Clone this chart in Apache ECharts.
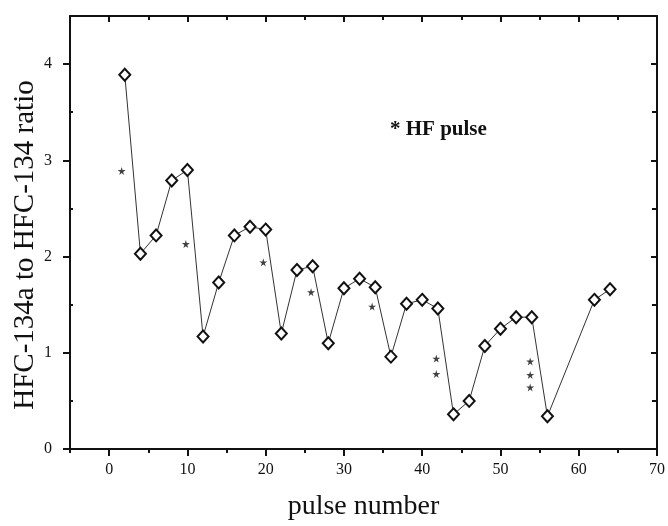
<!DOCTYPE html>
<html>
<head>
<meta charset="utf-8">
<script src="https://cdn.jsdelivr.net/npm/echarts@6/dist/echarts.min.js"></script>
<style>
  html, body { margin: 0; padding: 0; background: #fff; }
  #chart { width: 668px; height: 526px; }
</style>
</head>
<body>
<div id="chart"></div>
<script>
// measured ratios per pulse
var pulse = [2, 4, 6, 8, 10, 12, 14, 16, 18, 20, 22, 24, 26, 28, 30, 32, 34, 36, 38, 40, 42, 44, 46, 48, 50, 52, 54, 56, 62, 64]
var ratio = [3.89, 2.03, 2.22, 2.79, 2.90, 1.17, 1.73, 2.22, 2.31, 2.28, 1.20, 1.86, 1.90, 1.10, 1.67, 1.77, 1.68, 0.96, 1.51, 1.55, 1.46, 0.36, 0.50, 1.07, 1.25, 1.37, 1.37, 0.34, 1.55, 1.66]

// HF pulse markers
var hfPulse = [1.6, 9.8, 19.7, 25.8, 33.6, 41.8, 41.8, 53.8, 53.8, 53.8]
var hfRatio = [2.89, 2.13, 1.94, 1.63, 1.48, 0.94, 0.78, 0.91, 0.77, 0.64]

var xMajor = [0, 10, 20, 30, 40, 50, 60, 70]
var xMinor = [-5, 5, 15, 25, 35, 45, 55, 65]
var yMajor = [0, 1, 2, 3, 4]
var yMinor = [0.5, 1.5, 2.5, 3.5]

var serif = '"Liberation Serif", "DejaVu Serif", serif'
var black = '#111'

var chart = echarts.init(document.getElementById('chart'))

function xAxis(pos, ticks, len, inside, showLabel, showLine) {
  return {
    type: 'value', position: pos, min: -5, max: 70, interval: 5,
    axisLine: { show: showLine, onZero: false, lineStyle: { color: black, width: 2 } },
    axisTick: { show: true, customValues: ticks, inside: inside, length: len, lineStyle: { color: black, width: 2 } },
    axisLabel: { show: showLabel, customValues: xMajor, color: black, fontFamily: serif, fontSize: 16, margin: 13 },
    splitLine: { show: false }
  }
}

function yAxis(pos, ticks, len, inside, showLabel, showLine) {
  return {
    type: 'value', position: pos, min: 0, max: 4.5, interval: 0.5,
    axisLine: { show: showLine, onZero: false, lineStyle: { color: black, width: 2 } },
    axisTick: { show: true, customValues: ticks, inside: inside, length: len, lineStyle: { color: black, width: 2 } },
    axisLabel: { show: showLabel, customValues: yMajor, color: black, fontFamily: serif, fontSize: 16, margin: 18 },
    splitLine: { show: false }
  }
}

var xs = [
  xAxis('bottom', xMajor, 7, false, true, true),
  xAxis('bottom', xMinor, 4, false, false, false),
  xAxis('top', xMajor, 6, true, false, true),
  xAxis('top', xMinor, 4, true, false, false)
]
xs[0].name = 'pulse number'
xs[0].nameLocation = 'middle'
xs[0].nameGap = 44
xs[0].nameTextStyle = { color: black, fontFamily: serif, fontSize: 28 }

var ys = [
  yAxis('left', yMajor, 7, false, true, true),
  yAxis('left', yMinor, 3, true, false, false),
  yAxis('right', yMajor, 6, true, false, true),
  yAxis('right', yMinor, 5, true, false, false)
]

var option = {
  backgroundColor: '#fff',
  animation: false,
  grid: { left: 70, right: 7, top: 16, bottom: 71 },
  xAxis: xs,
  yAxis: ys,
  graphic: [
    {
      type: 'text', x: 25, y: 245, rotation: Math.PI / 2,
      style: { text: 'HFC-134a to HFC-134 ratio', fill: black, font: '29px ' + serif, align: 'center', verticalAlign: 'middle' }
    },
    {
      type: 'text', left: 390, top: 119,
      style: { text: '* HF pulse', fill: black, font: 'bold 21px ' + serif }
    }
  ],
  series: [
    {
      type: 'line',
      data: pulse.map(function (p, i) { return [p, ratio[i]] }),
      symbol: 'diamond',
      symbolSize: [11, 12],
      showAllSymbol: true,
      lineStyle: { color: '#333', width: 1 },
      itemStyle: { color: '#fff', borderColor: black, borderWidth: 2 },
      z: 3
    },
    {
      type: 'scatter',
      data: hfPulse.map(function (p, i) { return [p, hfRatio[i]] }),
      symbol: 'path://M50,0 L61,35 L98,35 L68,57 L79,91 L50,70 L21,91 L32,57 L2,35 L39,35 Z',
      symbolSize: 8,
      itemStyle: { color: black }
    }
  ]
}
chart.setOption(option)
</script>
</body>
</html>
